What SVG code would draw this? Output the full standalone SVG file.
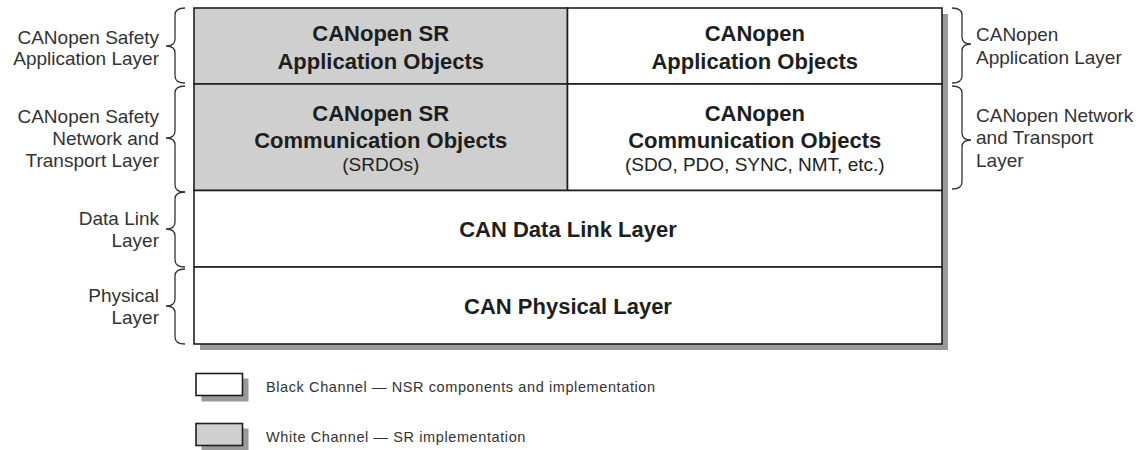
<svg xmlns="http://www.w3.org/2000/svg" width="1140" height="450" viewBox="0 0 1140 450">
  <style>
    .cell { stroke: #1e1e1e; stroke-width: 1.6; }
    .nsr { fill: #ffffff; }
    .sr { fill: #cfcfcf; }
    .shadow { fill: #9a9a9a; }
    .head { font-family: "Liberation Sans", Arial, sans-serif; font-weight: bold; font-size: 22px; fill: #1e1e1e; text-anchor: middle; }
    .sub { font-family: "Liberation Sans", Arial, sans-serif; font-size: 19px; fill: #222; text-anchor: middle; }
    .side { font-family: "Liberation Sans", Arial, sans-serif; font-size: 19px; fill: #333; }
    .left { text-anchor: end; }
    .legend { font-family: "Liberation Sans", Arial, sans-serif; font-size: 14.5px; letter-spacing: 0.6px; fill: #333; }
    .brace { fill: none; stroke: #333; stroke-width: 1.3; }
  </style>

  <!-- drop shadow of the layer stack -->
  <rect class="shadow" x="200" y="14" width="748" height="336"/>

  <g id="sr-application">
    <rect class="cell sr" x="194" y="8" width="373.5" height="76"/>
    <text class="head" x="380.75" y="41">CANopen SR</text>
    <text class="head" x="380.75" y="69">Application Objects</text>
  </g>

  <g id="canopen-application">
    <rect class="cell nsr" x="567.5" y="8" width="374.5" height="76"/>
    <text class="head" x="754.75" y="41">CANopen</text>
    <text class="head" x="754.75" y="69">Application Objects</text>
  </g>

  <g id="sr-communication">
    <rect class="cell sr" x="194" y="84" width="373.5" height="106.5"/>
    <text class="head" x="380.75" y="121">CANopen SR</text>
    <text class="head" x="380.75" y="148">Communication Objects</text>
    <text class="sub" x="380.75" y="171">(SRDOs)</text>
  </g>

  <g id="canopen-communication">
    <rect class="cell nsr" x="567.5" y="84" width="374.5" height="106.5"/>
    <text class="head" x="754.75" y="121">CANopen</text>
    <text class="head" x="754.75" y="148">Communication Objects</text>
    <text class="sub" x="754.75" y="171">(SDO, PDO, SYNC, NMT, etc.)</text>
  </g>

  <g id="can-data-link">
    <rect class="cell nsr" x="194" y="190.5" width="748" height="76.5"/>
    <text class="head" x="568" y="237">CAN Data Link Layer</text>
  </g>

  <g id="can-physical">
    <rect class="cell nsr" x="194" y="267" width="748" height="77"/>
    <text class="head" x="568" y="314">CAN Physical Layer</text>
  </g>

  <!-- braces grouping the layers -->
  <g id="braces">
    <path class="brace" d="M185,8 Q175,8 175,15 L175,39 Q175,46 166,46 Q175,46 175,53 L175,76 Q175,83 185,83"/>
    <path class="brace" d="M185,86 Q175,86 175,93 L175,131 Q175,138 166,138 Q175,138 175,145 L175,185 Q175,192 185,192"/>
    <path class="brace" d="M185,192 Q175,192 175,199 L175,222 Q175,229 166,229 Q175,229 175,236 L175,260 Q175,267 185,267"/>
    <path class="brace" d="M185,269 Q175,269 175,276 L175,299 Q175,306 166,306 Q175,306 175,313 L175,337 Q175,344 185,344"/>
    <path class="brace" d="M952,8 Q962,8 962,15 L962,37 Q962,44 971,44 Q962,44 962,51 L962,76 Q962,83 952,83"/>
    <path class="brace" d="M952,86 Q962,86 962,93 L962,133 Q962,140 971,140 Q962,140 962,147 L962,182 Q962,189 952,189"/>
  </g>

  <g id="label-safety-application">
    <text class="side left" x="159" y="44">CANopen Safety</text>
    <text class="side left" x="159" y="65">Application Layer</text>
  </g>
  <g id="label-safety-network">
    <text class="side left" x="159" y="123">CANopen Safety</text>
    <text class="side left" x="159" y="145">Network and</text>
    <text class="side left" x="159" y="167">Transport Layer</text>
  </g>
  <g id="label-data-link">
    <text class="side left" x="159" y="225">Data Link</text>
    <text class="side left" x="159" y="247">Layer</text>
  </g>
  <g id="label-physical">
    <text class="side left" x="159" y="302">Physical</text>
    <text class="side left" x="159" y="324">Layer</text>
  </g>
  <g id="label-application">
    <text class="side" x="976" y="41">CANopen</text>
    <text class="side" x="976" y="64">Application Layer</text>
  </g>
  <g id="label-network">
    <text class="side" x="976" y="122">CANopen Network</text>
    <text class="side" x="976" y="144">and Transport</text>
    <text class="side" x="976" y="167">Layer</text>
  </g>

  <!-- legend -->
  <g id="legend-black">
    <rect class="shadow" x="201.5" y="378.5" width="47" height="23"/>
    <rect class="cell nsr" x="196" y="373.5" width="46.5" height="22"/>
    <text class="legend" x="266" y="392">Black Channel — NSR components and implementation</text>
  </g>
  <g id="legend-white">
    <rect class="shadow" x="201.5" y="428.5" width="47" height="23"/>
    <rect class="cell sr" x="196" y="423.5" width="46.5" height="22"/>
    <text class="legend" x="266" y="442">White Channel — SR implementation</text>
  </g>
</svg>
